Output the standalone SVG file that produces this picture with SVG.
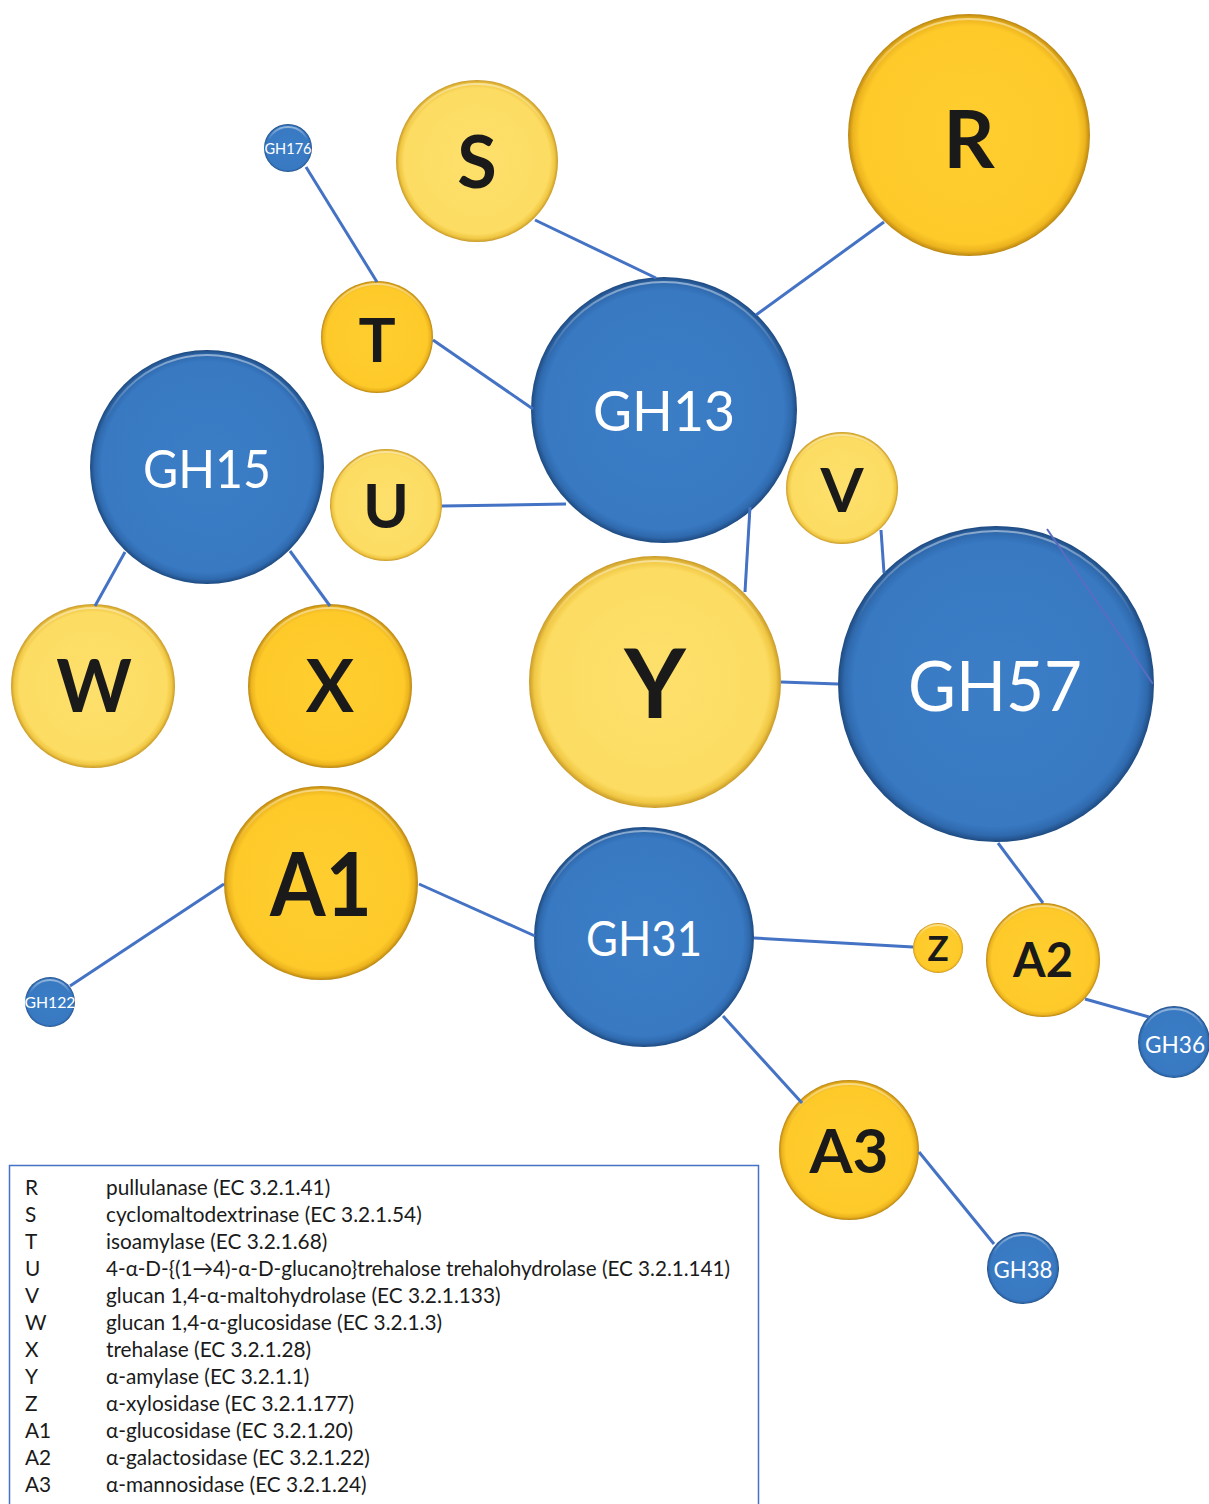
<svg xmlns="http://www.w3.org/2000/svg" width="1209" height="1504" viewBox="0 0 1209 1504">
<defs>
<radialGradient id="gBlue" cx="50%" cy="50%" r="50%">
<stop offset="0" stop-color="#3B7EC6"/>
<stop offset="0.9" stop-color="#3879C2"/>
<stop offset="0.96" stop-color="#2F69AD"/>
<stop offset="1" stop-color="#1E4A80"/>
</radialGradient>
<radialGradient id="gLight" cx="50%" cy="50%" r="50%">
<stop offset="0" stop-color="#FDE06C"/>
<stop offset="0.9" stop-color="#FCDC62"/>
<stop offset="0.96" stop-color="#F0C743"/>
<stop offset="1" stop-color="#C89A2A"/>
</radialGradient>
<radialGradient id="gGold" cx="50%" cy="50%" r="50%">
<stop offset="0" stop-color="#FFCE2E"/>
<stop offset="0.9" stop-color="#FDCA2A"/>
<stop offset="0.96" stop-color="#EDB41E"/>
<stop offset="1" stop-color="#B98612"/>
</radialGradient>
<linearGradient id="hl" x1="0" y1="0" x2="0" y2="1">
<stop offset="0" stop-color="#fff" stop-opacity="0.45"/>
<stop offset="0.3" stop-color="#fff" stop-opacity="0"/>
</linearGradient>
</defs>
<style>
.blue{fill:url(#gBlue)}
.light{fill:url(#gLight)}
.gold{fill:url(#gGold)}
.hl{fill:none;stroke:url(#hl);stroke-width:2}
.gh{font-family:Lato,"Open Sans","Liberation Sans",sans-serif;fill:#FFFFFF;text-anchor:middle}
.lt{font-family:Lato,"Open Sans","Liberation Sans",sans-serif;font-weight:bold;fill:#1A1A1A;text-anchor:middle}
.edge{stroke:#4472C4;stroke-width:3;fill:none}
.thin{stroke:#5A6CC0;stroke-width:2;fill:none}
.lg{font-family:Lato,"Liberation Sans",sans-serif;font-size:20.8px;fill:#1A1A1A}
</style>
<rect width="1209" height="1504" fill="#FFFFFF"/>

<g id="node-GH176"><circle class="blue" cx="288" cy="148" r="24"/><circle class="hl" cx="288" cy="148" r="21"/><text class="gh" x="288" y="154" font-size="15" textLength="47" lengthAdjust="spacingAndGlyphs">GH176</text></g>
<g id="node-S"><circle class="light" cx="477" cy="161" r="81"/><circle class="hl" cx="477" cy="161" r="77"/><text class="lt" x="477" y="188" font-size="72">S</text></g>
<g id="node-R"><circle class="gold" cx="969" cy="135" r="121"/><circle class="hl" cx="969" cy="135" r="116"/><text class="lt" x="969" y="168" font-size="80">R</text></g>
<g id="node-T"><circle class="gold" cx="377" cy="337" r="56"/><circle class="hl" cx="377" cy="337" r="53"/><text class="lt" x="377" y="362" font-size="62">T</text></g>
<g id="node-GH13"><circle class="blue" cx="664" cy="410" r="133"/><circle class="hl" cx="664" cy="410" r="128"/><text class="gh" x="664" y="431" font-size="57" textLength="142" lengthAdjust="spacingAndGlyphs">GH13</text></g>
<g id="node-GH15"><circle class="blue" cx="207" cy="467" r="117"/><circle class="hl" cx="207" cy="467" r="112"/><text class="gh" x="207" y="488" font-size="53" textLength="128" lengthAdjust="spacingAndGlyphs">GH15</text></g>
<g id="node-U"><circle class="light" cx="386" cy="505" r="56"/><circle class="hl" cx="386" cy="505" r="53"/><text class="lt" x="386" y="528" font-size="62">U</text></g>
<g id="node-V"><circle class="light" cx="842" cy="488" r="56"/><circle class="hl" cx="842" cy="488" r="53"/><text class="lt" x="842" y="512" font-size="62">V</text></g>
<g id="node-W"><circle class="light" cx="93" cy="686" r="82"/><circle class="hl" cx="93" cy="686" r="78"/><text class="lt" x="94" y="712" font-size="72">W</text></g>
<g id="node-X"><circle class="gold" cx="330" cy="686" r="82"/><circle class="hl" cx="330" cy="686" r="78"/><text class="lt" x="330" y="712" font-size="72">X</text></g>
<g id="node-Y"><circle class="light" cx="655" cy="682" r="126"/><circle class="hl" cx="655" cy="682" r="121"/><text class="lt" x="655" y="718" font-size="95">Y</text></g>
<g id="node-GH57"><circle class="blue" cx="996" cy="684" r="158"/><circle class="hl" cx="996" cy="684" r="153"/><text class="gh" x="995" y="711" font-size="70" textLength="174" lengthAdjust="spacingAndGlyphs">GH57</text></g>
<g id="node-A1"><circle class="gold" cx="321" cy="883" r="97"/><circle class="hl" cx="321" cy="883" r="93"/><text class="lt" x="321" y="916" font-size="88" textLength="102" lengthAdjust="spacingAndGlyphs">A1</text></g>
<g id="node-GH31"><circle class="blue" cx="644" cy="937" r="110"/><circle class="hl" cx="644" cy="937" r="106"/><text class="gh" x="644" y="956" font-size="49" textLength="116" lengthAdjust="spacingAndGlyphs">GH31</text></g>
<g id="node-Z"><circle class="gold" cx="938" cy="948" r="25"/><circle class="hl" cx="938" cy="948" r="23"/><text class="lt" x="938" y="961" font-size="35">Z</text></g>
<g id="node-A2"><circle class="gold" cx="1043" cy="960" r="57"/><circle class="hl" cx="1043" cy="960" r="54"/><text class="lt" x="1043" y="977" font-size="47">A2</text></g>
<g id="node-GH36"><circle class="blue" cx="1174" cy="1042" r="36"/><circle class="hl" cx="1174" cy="1042" r="33"/><text class="gh" x="1175" y="1053" font-size="23" textLength="60" lengthAdjust="spacingAndGlyphs">GH36</text></g>
<g id="node-GH122"><circle class="blue" cx="50" cy="1002" r="25"/><circle class="hl" cx="50" cy="1002" r="22"/><text class="gh" x="50" y="1008" font-size="16" textLength="51" lengthAdjust="spacingAndGlyphs">GH122</text></g>
<g id="node-A3"><circle class="gold" cx="849" cy="1150" r="70"/><circle class="hl" cx="849" cy="1150" r="66"/><text class="lt" x="849" y="1173" font-size="62">A3</text></g>
<g id="node-GH38"><circle class="blue" cx="1023" cy="1268" r="36"/><circle class="hl" cx="1023" cy="1268" r="33"/><text class="gh" x="1023" y="1278" font-size="23" textLength="59" lengthAdjust="spacingAndGlyphs">GH38</text></g>

<g id="connectors">
<line class="edge" x1="306" y1="167" x2="377" y2="282"/>
<line class="edge" x1="535" y1="220" x2="656" y2="278"/>
<line class="edge" x1="884" y1="222" x2="756" y2="315"/>
<line class="edge" x1="433" y1="340" x2="533" y2="409"/>
<line class="edge" x1="442" y1="506" x2="566" y2="504"/>
<line class="edge" x1="750" y1="507" x2="745" y2="592"/>
<line class="edge" x1="881" y1="530" x2="884" y2="573"/>
<line class="thin" x1="1047" y1="529" x2="1153" y2="684"/>
<line class="edge" x1="125" y1="552" x2="95" y2="606"/>
<line class="edge" x1="290" y1="551" x2="330" y2="606"/>
<line class="edge" x1="781" y1="682" x2="838" y2="684"/>
<line class="edge" x1="224" y1="884" x2="70" y2="986"/>
<line class="edge" x1="419" y1="884" x2="535" y2="936"/>
<line class="edge" x1="754" y1="938" x2="913" y2="947"/>
<line class="edge" x1="998" y1="843" x2="1043" y2="903"/>
<line class="edge" x1="1085" y1="999" x2="1149" y2="1017"/>
<line class="edge" x1="723" y1="1016" x2="802" y2="1103"/>
<line class="edge" x1="919" y1="1152" x2="994" y2="1244"/>
</g>

<g id="legend">
<rect x="9.5" y="1165.5" width="749" height="350" fill="none" stroke="#4472C4" stroke-width="1.5"/>
<text class="lg" x="25" y="1195">R</text><text class="lg" x="106" y="1195">pullulanase (EC 3.2.1.41)</text>
<text class="lg" x="25" y="1222">S</text><text class="lg" x="106" y="1222">cyclomaltodextrinase (EC 3.2.1.54)</text>
<text class="lg" x="25" y="1249">T</text><text class="lg" x="106" y="1249">isoamylase (EC 3.2.1.68)</text>
<text class="lg" x="25" y="1276">U</text><text class="lg" x="106" y="1276" textLength="624" lengthAdjust="spacingAndGlyphs">4-α-D-{(1→4)-α-D-glucano}trehalose trehalohydrolase (EC 3.2.1.141)</text>
<text class="lg" x="25" y="1303">V</text><text class="lg" x="106" y="1303">glucan 1,4-α-maltohydrolase (EC 3.2.1.133)</text>
<text class="lg" x="25" y="1330">W</text><text class="lg" x="106" y="1330">glucan 1,4-α-glucosidase (EC 3.2.1.3)</text>
<text class="lg" x="25" y="1357">X</text><text class="lg" x="106" y="1357">trehalase (EC 3.2.1.28)</text>
<text class="lg" x="25" y="1384">Y</text><text class="lg" x="106" y="1384">α-amylase (EC 3.2.1.1)</text>
<text class="lg" x="25" y="1411">Z</text><text class="lg" x="106" y="1411">α-xylosidase (EC 3.2.1.177)</text>
<text class="lg" x="25" y="1438">A1</text><text class="lg" x="106" y="1438">α-glucosidase (EC 3.2.1.20)</text>
<text class="lg" x="25" y="1465">A2</text><text class="lg" x="106" y="1465">α-galactosidase (EC 3.2.1.22)</text>
<text class="lg" x="25" y="1492">A3</text><text class="lg" x="106" y="1492">α-mannosidase (EC 3.2.1.24)</text>
</g>
</svg>
